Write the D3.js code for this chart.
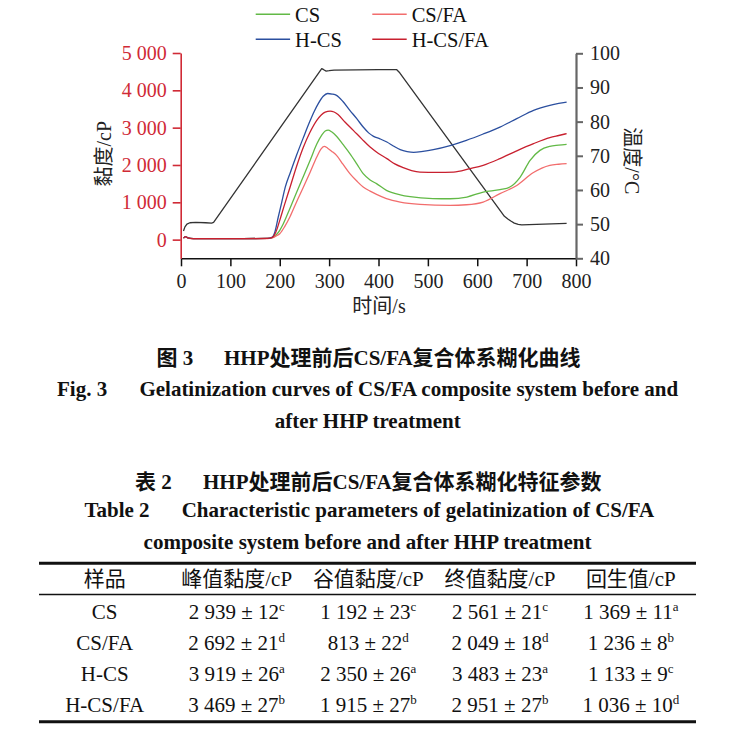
<!DOCTYPE html>
<html><head><meta charset="utf-8">
<script src="https://cdn.jsdelivr.net/npm/d3@7/dist/d3.min.js"></script>
<style>
html,body{margin:0;padding:0;background:#fff;}
svg{display:block;}
</style></head>
<body>
<svg id="chart" width="729" height="736"></svg>
<script>
// ---------------- chart data ----------------
const timeCS   = [5, 9, 14, 25, 100, 175, 184, 193, 200, 207, 221, 234, 248, 262, 275, 285, 292, 298, 305, 315, 328, 342, 356, 369, 383, 396, 416, 444, 464, 510, 545, 579, 612, 646, 666, 687, 707, 727, 747, 765, 781];
const viscCS   = [40, 80, 45, 25, 25, 35, 50, 130, 250, 420, 850, 1260, 1700, 2140, 2560, 2800, 2910, 2935, 2890, 2770, 2550, 2304, 2030, 1768, 1600, 1500, 1320, 1200, 1150, 1100, 1095, 1141, 1275, 1339, 1409, 1677, 2124, 2392, 2499, 2530, 2553];

const timeCSFA = [5, 9, 14, 25, 100, 175, 184, 193, 200, 210, 221, 234, 248, 262, 275, 283, 290, 297, 305, 315, 328, 342, 356, 369, 383, 396, 416, 444, 484, 545, 578, 612, 646, 680, 713, 747, 765, 781];
const viscCSFA = [40, 75, 40, 20, 20, 30, 45, 100, 160, 350, 620, 1010, 1409, 1820, 2213, 2420, 2499, 2450, 2370, 2258, 2020, 1768, 1570, 1409, 1300, 1213, 1100, 1007, 946, 919, 935, 1007, 1232, 1450, 1790, 1990, 2020, 2036];

const timeHCS  = [5, 9, 14, 25, 100, 175, 184, 190, 197, 204, 211, 222, 234, 248, 261, 270, 278, 288, 297, 306, 315, 328, 342, 356, 369, 380, 390, 403, 417, 430, 444, 458, 471, 490, 511, 545, 578, 612, 646, 680, 714, 747, 765, 781];
const viscHCS  = [40, 80, 45, 25, 25, 35, 60, 200, 606, 1000, 1400, 1820, 2260, 2740, 3170, 3440, 3643, 3840, 3915, 3900, 3865, 3700, 3464, 3240, 3017, 2860, 2767, 2700, 2615, 2510, 2410, 2360, 2340, 2365, 2411, 2520, 2660, 2830, 3016, 3240, 3464, 3598, 3650, 3686];

const timeHCSFA = [5, 9, 14, 25, 100, 175, 184, 192, 200, 210, 221, 234, 248, 261, 275, 284, 292, 302, 310, 318, 332, 349, 366, 383, 400, 417, 433, 450, 467, 484, 518, 552, 585, 612, 646, 680, 714, 747, 765, 781];
const viscHCSFA = [40, 80, 45, 25, 25, 35, 55, 200, 517, 950, 1409, 1960, 2481, 2870, 3196, 3340, 3418, 3445, 3420, 3350, 3150, 2928, 2700, 2481, 2310, 2170, 2030, 1929, 1850, 1811, 1803, 1810, 1902, 1990, 2170, 2380, 2572, 2732, 2790, 2840];

const timeTemp = [5, 8, 12, 18, 30, 50, 62, 66, 285, 289, 294, 300, 310, 400, 437, 443, 655, 662, 668, 675, 683, 690, 720, 781];
const tempC    = [48.0, 49.2, 50.0, 50.4, 50.5, 50.4, 50.3, 50.5, 95.5, 95.2, 94.8, 94.9, 95.1, 95.2, 95.2, 94.3, 52.3, 51.5, 50.9, 50.3, 49.95, 49.8, 49.9, 50.2];

const seriesNames = ["CS", "CS/FA", "H-CS", "H-CS/FA"];
const xTicks = [0, 100, 200, 300, 400, 500, 600, 700, 800];
const viscTicks = [0, 1000, 2000, 3000, 4000, 5000];
const tempTicks = [40, 50, 60, 70, 80, 90, 100];

// ---------------- table data ----------------
const tableHeaders = ["样品", "峰值黏度/cP", "谷值黏度/cP", "终值黏度/cP", "回生值/cP"];
const tableSamples = ["CS", "CS/FA", "H-CS", "H-CS/FA"];
const peakVisc   = [2939, 2692, 3919, 3469], peakSD = [12, 21, 26, 27], peakSig = ["c", "d", "a", "b"];
const troughVisc = [1192, 813, 2350, 1915], troughSD = [23, 22, 26, 27], troughSig = ["c", "d", "a", "b"];
const finalVisc  = [2561, 2049, 3483, 2951], finalSD = [21, 18, 23, 27], finalSig = ["c", "d", "a", "b"];
const setbackVal = [1369, 1236, 1133, 1036], setbackSD = [11, 8, 9, 10], setbackSig = ["a", "b", "c", "d"];

// ---------------- styles ----------------
const seriesColors = ["#62b946", "#f26d6d", "#2b4f9f", "#c8202f"];
const tempColor = "#333333";
const redAxis = "#d02a36";
const serif = "'Liberation Serif','Times New Roman','Noto Sans CJK SC',serif";

const svg = d3.select("#chart");
svg.append("rect").attr("width", 729).attr("height", 736).attr("fill", "#fff");

const x = d3.scaleLinear().domain([0, 800]).range([181, 576]);
const yV = d3.scaleLinear().domain([-500, 5000]).range([258.3, 53]);
const yT = d3.scaleLinear().domain([40, 100]).range([258.3, 53.3]);

const fmtSpace = n => d3.format(",")(n).replace(/,/g, " ");

// axes
const gx = svg.append("g").attr("transform", "translate(0,258.3)")
  .call(d3.axisBottom(x).tickValues(xTicks).tickSize(8).tickSizeOuter(0).tickFormat(d3.format("d")));
gx.select(".domain").attr("stroke", "#111").attr("stroke-width", 1.5);
gx.selectAll(".tick line").attr("stroke", "#111").attr("stroke-width", 1.5);
gx.selectAll(".tick text").attr("y", 30).attr("dy", null).attr("fill", "#222")
  .style("font-family", serif).style("font-size", "20px");

const gl = svg.append("g").attr("transform", "translate(180.7,0)")
  .call(d3.axisLeft(yV).tickValues(viscTicks).tickSize(8).tickSizeOuter(0).tickFormat(fmtSpace));
gl.select(".domain").attr("stroke", redAxis).attr("stroke-width", 1.6);
gl.selectAll(".tick line").attr("stroke", redAxis).attr("stroke-width", 1.6);
gl.selectAll(".tick text").attr("x", -14).attr("fill", redAxis)
  .style("font-family", serif).style("font-size", "20px");

const gr = svg.append("g").attr("transform", "translate(576,0)")
  .call(d3.axisRight(yT).tickValues(tempTicks).tickSize(7).tickSizeOuter(0).tickFormat(d3.format("d")));
gr.select(".domain").attr("stroke", "#666").attr("stroke-width", 2.2);
gr.selectAll(".tick line").attr("stroke", "#666").attr("stroke-width", 2);
gr.selectAll(".tick text").attr("x", 14).attr("fill", "#222")
  .style("font-family", serif).style("font-size", "20px");

// axis titles
svg.append("text").attr("transform", "translate(111,153.7) rotate(-90)")
  .attr("text-anchor", "middle").style("font-family", serif).style("font-size", "20px").attr("fill", "#222")
  .text("黏度/cP");
svg.append("text").attr("transform", "translate(625,160.8) rotate(90)")
  .attr("text-anchor", "middle").style("font-family", serif).style("font-size", "20px").attr("fill", "#222")
  .text("温度/°C");
svg.append("text").attr("x", 379).attr("y", 313)
  .attr("text-anchor", "middle").style("font-family", serif).style("font-size", "20px").attr("fill", "#222")
  .text("时间/s");

// curves
const viscSeries = [
  {t: timeCS, v: viscCS},
  {t: timeCSFA, v: viscCSFA},
  {t: timeHCS, v: viscHCS},
  {t: timeHCSFA, v: viscHCSFA}
];
const lineV = d3.line().x(d => x(d[0])).y(d => yV(d[1])).curve(d3.curveMonotoneX);
const lineT = d3.line().x(d => x(d[0])).y(d => yT(d[1])).curve(d3.curveLinear);

svg.append("path").datum(timeTemp.map((t, i) => [t, tempC[i]]))
  .attr("d", lineT).attr("fill", "none").attr("stroke", tempColor).attr("stroke-width", 1.3)
  .attr("stroke-linejoin", "round");

viscSeries.forEach((s, k) => {
  svg.append("path").datum(s.t.map((t, i) => [t, s.v[i]]))
    .attr("d", lineV).attr("fill", "none").attr("stroke", seriesColors[k]).attr("stroke-width", 1.3);
});

// legend
const legendPos = [[255.7, 14.3], [372.3, 14.3], [255.7, 39.3], [372.3, 39.3]];
seriesNames.forEach((name, k) => {
  const [lx, ly] = legendPos[k];
  svg.append("line").attr("x1", lx).attr("x2", lx + 34.4).attr("y1", ly).attr("y2", ly)
    .attr("stroke", seriesColors[k]).attr("stroke-width", 1.5);
  svg.append("text").attr("x", lx + 39.4).attr("y", ly + 7.2)
    .style("font-family", serif).style("font-size", "20.5px").attr("fill", "#111").text(name);
});

// ---------------- captions ----------------
const capStyle = sel => sel.style("font-family", serif).style("font-size", "21px").style("font-weight", "bold").attr("fill", "#111");
const captions = [
  ["图 3", 156.4, "HHP处理前后CS/FA复合体系糊化曲线", 224, 365],
  ["Fig. 3", 57, "Gelatinization curves of CS/FA composite system before and", 139.4, 396],
  ["", 0, "after HHP treatment", 274.8, 428],
  ["表 2", 135, "HHP处理前后CS/FA复合体系糊化特征参数", 203, 489],
  ["Table 2", 84.4, "Characteristic parameters of gelatinization of CS/FA", 181.7, 517],
  ["", 0, "composite system before and after HHP treatment", 143.6, 548.5]
];
captions.forEach(c => {
  if (c[0]) capStyle(svg.append("text").attr("x", c[1]).attr("y", c[4]).text(c[0]));
  capStyle(svg.append("text").attr("x", c[3]).attr("y", c[4]).text(c[2]));
});

// ---------------- table ----------------
const tX0 = 39, tX1 = 696;
svg.append("line").attr("x1", tX0).attr("x2", tX1).attr("y1", 563.3).attr("y2", 563.3).attr("stroke", "#111").attr("stroke-width", 3);
svg.append("line").attr("x1", tX0).attr("x2", tX1).attr("y1", 594.5).attr("y2", 594.5).attr("stroke", "#111").attr("stroke-width", 1.4);
svg.append("line").attr("x1", tX0).attr("x2", tX1).attr("y1", 721.7).attr("y2", 721.7).attr("stroke", "#111").attr("stroke-width", 3);

const colX = [104.7, 236.7, 368.3, 500, 630.8];
const tStyle = sel => sel.style("font-family", serif).style("font-size", "21px").attr("fill", "#111").attr("text-anchor", "middle");
tableHeaders.forEach((h, j) => tStyle(svg.append("text").attr("x", colX[j]).attr("y", 586).text(h)));

const cols = [
  [peakVisc, peakSD, peakSig],
  [troughVisc, troughSD, troughSig],
  [finalVisc, finalSD, finalSig],
  [setbackVal, setbackSD, setbackSig]
];
tableSamples.forEach((s, i) => {
  const yy = 618.5 + i * 31.1;
  tStyle(svg.append("text").attr("x", colX[0]).attr("y", yy).text(s));
  cols.forEach((c, j) => {
    const t = tStyle(svg.append("text").attr("x", colX[j + 1]).attr("y", yy));
    t.append("tspan").text(fmtSpace(c[0][i]) + " ± " + c[1][i]);
    t.append("tspan").attr("dy", -7.5).style("font-size", "13px").text(c[2][i]);
  });
});
</script>
</body></html>
